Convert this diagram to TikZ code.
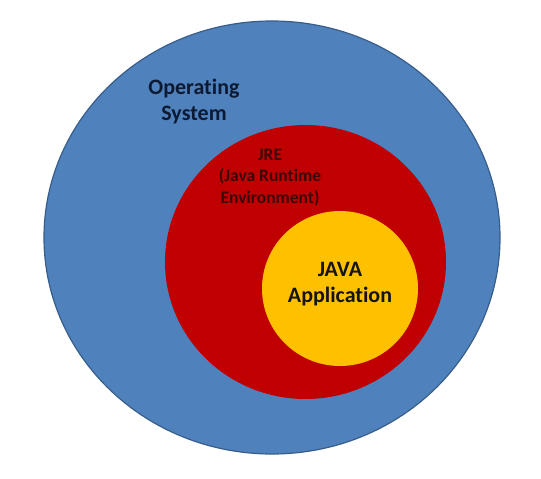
\documentclass[tikz,border=0pt]{standalone}
\usepackage{fontspec}
\setmainfont{Carlito}
\newfontfamily\lblfont{Carlito-Bold}[Extension=.ttf, Ligatures=NoCommon]
\usetikzlibrary{shapes.geometric}
\definecolor{osblue}{HTML}{4F81BD}
\definecolor{osedge}{HTML}{385D8A}
\definecolor{jrered}{HTML}{C00000}
\definecolor{appyellow}{HTML}{FFC000}
\definecolor{ostext}{HTML}{0C1A33}
\definecolor{jretext}{HTML}{3A0808}
\definecolor{apptext}{HTML}{141414}
\tikzset{
  layer/.style={ellipse, inner sep=0pt, outer sep=0pt},
  lbl/.style={align=center, inner sep=0pt}
}
\begin{document}
\begin{tikzpicture}[x=1pt,y=-1pt]
\useasboundingbox (0,0) rectangle (541,479);
\fill[white] (0,0) rectangle (541,479);
\node[layer, fill=osblue, draw=osedge, line width=1.2pt, minimum width=456pt, minimum height=433pt] (os) at (272,237.5) {};
\node[layer, fill=jrered, minimum width=281pt, minimum height=274pt] (jre) at (305.5,262) {};
\node[layer, fill=appyellow, minimum width=156pt, minimum height=155pt] (app) at (340,288.5) {};
\node[lbl, text=ostext, font=\lblfont\fontsize{22}{26}\selectfont] (ostxt) at (194,101.5) {Operating\\System};
\node[lbl, text=jretext, font=\lblfont\fontsize{17.5}{21.5}\selectfont] (jretxt) at (270,177.5) {JRE\\(Java Runtime\\Environment)};
\node[lbl, text=apptext, font=\lblfont\fontsize{22}{25.7}\selectfont] (apptxt) at (340,284) {JAVA\\Application};
\end{tikzpicture}
\end{document}
